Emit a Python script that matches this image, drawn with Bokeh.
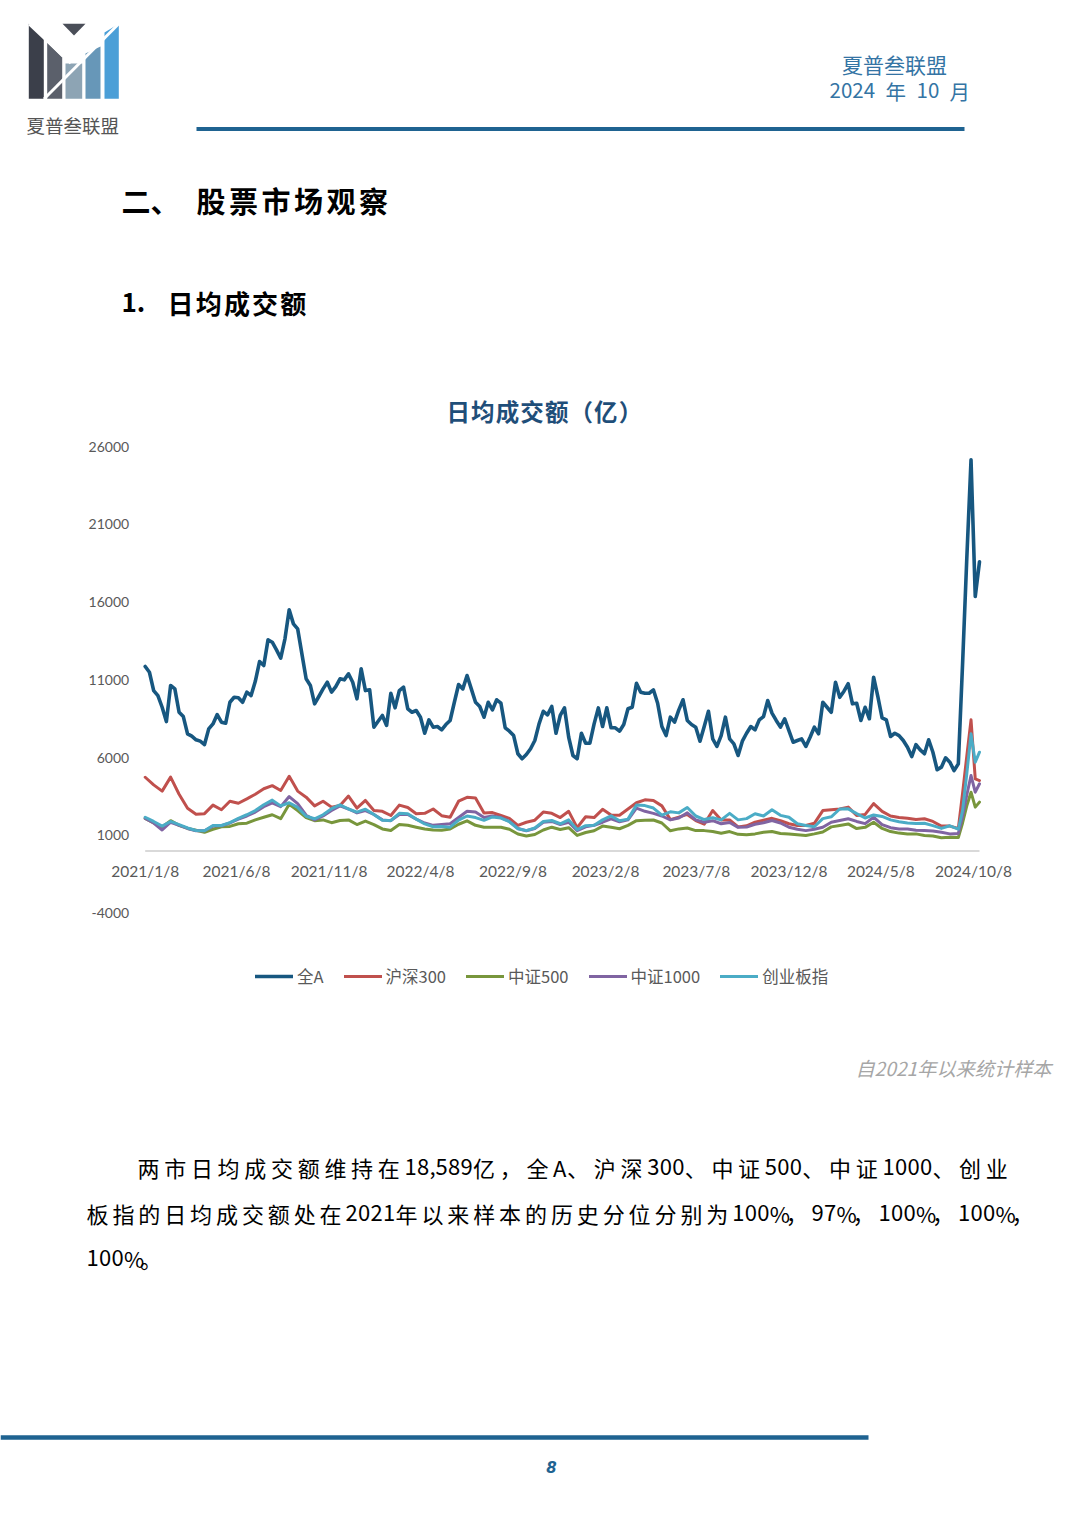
import pandas as pd
import numpy as np
from bokeh.plotting import figure
from bokeh.models import Range1d, FixedTicker, Legend, LegendItem
from bokeh.layouts import column
from bokeh.embed import file_html
from bokeh.resources import INLINE
from bokeh.core.properties import value

# ---------------- data ----------------
START_DATE = "2021-01-08"
SERIES_NAMES = ["全A", "沪深300", "中证500", "中证1000", "创业板指"]
SERIES_COLORS = ["#175780", "#c0504d", "#78963c", "#8064a2", "#4bacc6"]

# weekly
ALL_A = [11860, 11490, 10310, 9990, 9240, 8320, 10640, 10420, 8920, 8640,
         7530, 7380, 7150, 7060, 6840, 7850, 8170, 8770, 8280, 8210,
         9560, 9880, 9850, 9560, 10210, 9990, 10910, 12180, 11920, 13570,
         13420, 12930, 12390, 13640, 15500, 14600, 14280, 12670, 11070, 10640,
         9460, 9930, 10420, 10850, 10210, 10570, 11070, 11000, 11390, 10850,
         9780,
         11710, 10310, 10360, 7960, 8340, 8710, 8070, 10140, 9200, 10310,
         10530, 9140, 8920, 9030, 8600, 7570, 8430, 7960, 8000, 7790,
         8130, 8390, 9560, 10700, 10420, 11280, 10420, 9560, 9290, 8600,
         9560, 9070, 9720, 9500, 7920, 7700, 7420, 6250, 5930, 6200,
         6570, 7100, 8170, 8980, 8750, 9290, 7570, 8710, 9200, 7310,
         6140, 5930, 7570, 6930, 6930, 8170, 9200, 8000, 9200, 7920,
         7920, 7700, 8130, 9140, 9240, 10780, 10210, 10140, 10140, 10360,
         9500, 8000, 7420, 8600, 8280, 9070, 9720, 8390, 8130, 7960,
         7060, 8000, 8980, 7210, 6720, 7420, 8600, 7210, 6890, 6140,
         7060, 7570, 8000, 7790, 8430, 8640, 9670, 8860, 8390,
         7960, 8500, 7740, 6990, 7100, 7210, 6720, 7310, 7960, 7530,
         9560, 9240, 8920, 10850, 9880, 10270, 10750, 9460, 9500, 8390,
         9240, 8500, 11170, 9930, 8560, 8430, 7360, 7570, 7420, 7100,
         6670, 6070, 6840, 6500, 6250, 7150, 6350, 5220, 5390, 5990,
         5710, 5170, 5600, 12000, 18800, 25140, 16360, 18589]

# fortnightly, then weekly for the last five weeks
HS300 = [4740, 4250, 3850, 4750, 3650, 2750, 2360, 2400, 2950, 2650,
         3200, 3070, 3350, 3650, 4000, 4200, 3890, 4800, 3850, 3460,
         2900, 3200, 2820, 2920, 3530, 2750, 3250, 2600, 2550, 2280,
         2950, 2800, 2390, 2420, 2700, 2270, 2170, 3200, 3450, 3400,
         2450, 2470, 2280, 2100, 1650, 1850, 1980, 2500, 2420, 2150,
         2550, 1500, 2200, 2150, 2680, 2320, 2300, 2700, 3100, 3290,
         3250, 2900, 2020, 2180, 2350, 1950, 1720, 2600, 2000, 2000,
         1550, 1620, 1850, 1980, 2100, 1950, 1750, 1640, 1640, 1780,
         2600, 2650, 2700, 2820, 2280, 2350, 3050, 2550, 2250, 2150,
         2100, 2020, 2070, 1900, 1600, 1600, 1450,
         3700, 6100, 8430, 4640, 4530]

ZZ500 = [2100, 1800, 1550, 1950, 1650, 1450, 1330, 1200, 1400, 1560,
         1580, 1750, 1790, 2000, 2170, 2330, 2080, 3000, 2600, 2150,
         1950, 2000, 1820, 1960, 2000, 1700, 1920, 1700, 1420, 1320,
         1700, 1650, 1530, 1420, 1350, 1330, 1410, 1720, 1940, 1650,
         1530, 1530, 1530, 1400, 1090, 960, 1060, 1350, 1530, 1380,
         1500, 1000, 1190, 1300, 1600, 1530, 1430, 1650, 1950, 1980,
         1990, 1800, 1300, 1420, 1480, 1310, 1310, 1250, 1140, 1250,
         1070, 1040, 1100, 1210, 1250, 1120, 1100, 1050, 1000, 1100,
         1220, 1550, 1640, 1740, 1440, 1520, 1850, 1450, 1250, 1150,
         1100, 1100, 1000, 960, 850, 880, 860,
         1800, 2900, 3780, 2820, 3140]

ZZ1000 = [2100, 1800, 1350, 1850, 1650, 1450, 1300, 1300, 1600, 1620,
          1800, 2050, 2250, 2500, 2850, 3100, 2850, 3500, 3050, 2300,
          2000, 2250, 2600, 2900, 2700, 2450, 2600, 2350, 2000, 1950,
          2350, 2350, 2050, 1800, 1650, 1700, 1750, 2150, 2550, 2500,
          2150, 2250, 2150, 1900, 1450, 1300, 1450, 1850, 1900, 1700,
          1850, 1310, 1550, 1650, 1850, 2070, 1880, 2000, 2750, 2550,
          2420, 2250, 2000, 2120, 2450, 2000, 1850, 1950, 1750, 1830,
          1520, 1540, 1720, 1820, 1960, 1800, 1530, 1400, 1310, 1400,
          1530, 1850, 1960, 2070, 1900, 1760, 2170, 1700, 1500, 1420,
          1420, 1330, 1310, 1280, 1200, 1100, 1130,
          2200, 3600, 4850, 3780, 4320]

CYB = [2170, 1900, 1600, 1900, 1700, 1480, 1320, 1300, 1640, 1640,
       1820, 2100, 2330, 2600, 2970, 3270, 2900, 3100, 2800, 2230,
       2070, 2330, 2720, 2970, 2700, 2500, 2690, 2350, 1980, 1960,
       2420, 2390, 2050, 1740, 1560, 1570, 1530, 1980, 2250, 2150,
       1970, 2190, 2120, 1880, 1430, 1310, 1480, 1900, 1960, 1750,
       2000, 1380, 1630, 1650, 2000, 2260, 1940, 2050, 2950, 2920,
       2760, 2300, 2520, 2450, 2800, 2250, 2020, 2140, 2000, 2420,
       2000, 2080, 2390, 2250, 2650, 2290, 2170, 1750, 1640, 1560,
       2080, 2200, 2700, 2710, 2400, 2120, 2320, 2220, 2000, 1880,
       1800, 1760, 1780, 1630, 1450, 1620, 1400,
       2600, 4960, 7530, 5710, 6350]

TICK_DATES = ["2021-01-08", "2021-06-08", "2021-11-08", "2022-04-08", "2022-09-08",
              "2023-02-08", "2023-07-08", "2023-12-08", "2024-05-08", "2024-10-08"]
Y_TICKS = [-4000, 1000, 6000, 11000, 16000, 21000, 26000]

# ---------------- helpers ----------------
W = 1080
CJK = "Noto Sans CJK SC"
NUMF = "Lato"
DAY_MS = 86400000.0

dates = pd.date_range(START_DATE, periods=len(ALL_A), freq="7D")
x_main = (dates.asi8 // 10**6).astype(float)
n_minor = len(HS300)
minor_idx = list(range(0, 193, 2)) + [193, 194, 195, 196, 197]
minor_idx = [min(i, len(x_main) - 1) for i in minor_idx][:n_minor]
x_minor = x_main[minor_idx]


def ms(d):
    return float(pd.Timestamp(d).value // 10**6)


def page_fig(h, y_top, y_bot):
    f = figure(width=W, height=h, x_range=Range1d(0, W), y_range=Range1d(y_bot, y_top),
               output_backend="svg", toolbar_location=None,
               x_axis_location=None, y_axis_location=None, min_border=0,
               frame_align=False)
    f.grid.visible = False
    f.outline_line_color = None
    f.background_fill_color = "white"
    f.border_fill_color = "white"
    return f


def style_of(bold, italic):
    if bold and italic:
        return "bold italic"
    return "bold" if bold else ("italic" if italic else "normal")


def txt(f, x, y, s, size, color="#000000", align="left", bold=False, italic=False, font=CJK):
    f.text(x=[x], y=[y], text=[s], text_font=value(font), text_font_size=f"{size}px",
           text_color=color, text_align=align, text_baseline="middle",
           text_font_style=style_of(bold, italic))


def char_line(f, s, x0, y, size, adv_cjk, narrow=None, color="#000000", bold=False):
    narrow = narrow or {}
    xs, cs = [], []
    x = x0
    for ch in s:
        xs.append(x)
        cs.append(ch)
        x += narrow.get(ch, 12.5) if ord(ch) < 128 else adv_cjk
    f.text(x=xs, y=[y] * len(xs), text=cs, text_font=value(CJK), text_font_size=f"{size}px",
           text_color=color, text_align="left", text_baseline="middle",
           text_font_style=style_of(bold, False))


# ---------------- top of page ----------------
TOP_H = 430
top = page_fig(TOP_H, 0, TOP_H)

logo_xs = [[28.3, 43.3, 43.3, 28.3], [46.7, 61.7, 61.7, 46.7], [65, 81.7, 81.7, 65],
           [85, 100, 100, 85], [104, 118.3, 118.3, 104], [62, 85, 73.5]]
logo_ys = [[23.3, 38, 98.3, 98.3], [42, 57, 98.3, 98.3], [63, 63, 98.3, 98.3],
           [53, 46, 98.3, 98.3], [32, 23.3, 98.3, 98.3], [23.3, 23.3, 35]]
logo_c = ["#3b3f4a", "#5b606b", "#8da4b4", "#6797b8", "#4b9fd7", "#4a4e58"]
top.patches(xs=logo_xs, ys=logo_ys, fill_color=logo_c, line_color=None)
top.line(x=[43.5, 118.5], y=[98.5, 23.0], line_color="white", line_width=3)
top.line(x=[28.5, 70.0], y=[24.0, 63.0], line_color="white", line_width=2)
txt(top, 26, 124, "夏普叁联盟", 18.5, "#555555")

HDR = "#3474a4"
txt(top, 894, 63, "夏普叁联盟", 21, HDR, align="center")
txt(top, 829, 90, "2024", 20.5, HDR)
txt(top, 885, 90, "年", 20.5, HDR)
txt(top, 916, 90, "10", 20.5, HDR)
txt(top, 949, 90, "月", 20.5, HDR)
top.line(x=[196, 964], y=[128.5, 128.5], line_color="#1f6391", line_width=4)

txt(top, 121, 199, "二、", 29, bold=True)
char_line(top, "股票市场观察", 196, 199, 29, 32.5, bold=True)
txt(top, 121, 302, "1.", 26, bold=True)
char_line(top, "日均成交额", 167, 302, 26, 28.2, bold=True)

char_line(top, "日均成交额（亿）", 446, 410, 23.5, 24.6, color="#1f4e79", bold=True)

# ---------------- chart ----------------
CH_TOP, CH_BOT = TOP_H, 1045
chart_h = CH_BOT - CH_TOP
F_LEFT, F_RIGHT, F_TOP, F_BOT = 80, 1030, 435, 1005        # frame edges on the page
X0_PX, PX_PER_DAY = 144.7, 0.605                            # first date position, scale
Y0_PX, Y26_PX = 850.5, 446.0                                # value 0 and 26000 positions
ppu = (Y0_PX - Y26_PX) / 26000.0

x_start = x_main[0] - (X0_PX - F_LEFT) / PX_PER_DAY * DAY_MS
x_end = x_main[0] + (F_RIGHT - X0_PX) / PX_PER_DAY * DAY_MS
y_end = (Y0_PX - F_TOP) / ppu
y_start = (Y0_PX - F_BOT) / ppu

chart = figure(width=W, height=chart_h, output_backend="svg", toolbar_location=None,
               x_range=Range1d(x_start, x_end), y_range=Range1d(y_start, y_end),
               min_border_left=F_LEFT, min_border_right=W - F_RIGHT,
               min_border_top=F_TOP - CH_TOP, min_border_bottom=CH_BOT - F_BOT,
               frame_align=False)
chart.grid.visible = False
chart.outline_line_color = None
chart.border_fill_color = "white"

# category axis baseline at zero, spanning the data dates
chart.line(x=[x_main[0], x_main[-1]], y=[0, 0], line_color="#d9d9d9", line_width=2)

series = [(x_main, ALL_A, 3.6), (x_minor, HS300, 3), (x_minor, ZZ500, 3),
          (x_minor, ZZ1000, 3), (x_minor, CYB, 3)]
renderers = []
for (xx, yy, lw), col in zip(series, SERIES_COLORS):
    n = min(len(xx), len(yy))
    r = chart.line(x=list(xx[:n]), y=list(yy[:n]), line_color=col, line_width=lw,
                   line_join="round", line_cap="round")
    renderers.append(r)

tick_ms = [ms(d) for d in TICK_DATES]
xa = chart.xaxis[0]
xa.fixed_location = 0
xa.ticker = FixedTicker(ticks=tick_ms)
xa.major_label_overrides = {t: f"{pd.Timestamp(d).year}/{pd.Timestamp(d).month}/{pd.Timestamp(d).day}"
                            for t, d in zip(tick_ms, TICK_DATES)}
xa.axis_line_color = None
xa.major_tick_line_color = None
xa.minor_tick_line_color = None
xa.major_tick_out = 0
xa.major_tick_in = 0
xa.minor_tick_out = 0
xa.major_label_standoff = 11
xa.major_label_text_font = NUMF
xa.major_label_text_font_size = "15.5px"
xa.major_label_text_color = "#595959"

ya = chart.yaxis[0]
ya.fixed_location = x_main[0]
ya.ticker = FixedTicker(ticks=Y_TICKS)
ya.major_label_overrides = {t: str(t) for t in Y_TICKS}
ya.axis_line_color = None
ya.major_tick_line_color = None
ya.minor_tick_line_color = None
ya.major_tick_out = 0
ya.major_tick_in = 0
ya.minor_tick_out = 0
ya.major_label_standoff = 16
ya.major_label_text_font = NUMF
ya.major_label_text_font_size = "14px"
ya.major_label_text_color = "#595959"

legend = Legend(items=[LegendItem(label=nm, renderers=[r]) for nm, r in zip(SERIES_NAMES, renderers)],
                orientation="horizontal", location=(255 - F_LEFT, F_BOT - 988),
                glyph_width=38, glyph_height=20, label_height=20, label_standoff=4,
                spacing=20, padding=0, margin=0,
                border_line_color=None, background_fill_alpha=0,
                label_text_font=CJK, label_text_font_size="16.5px", label_text_color="#595959")
chart.add_layout(legend)

# ---------------- bottom of page ----------------
bot = page_fig(1528 - CH_BOT, CH_BOT, 1528)
txt(bot, 1051, 1067, "自2021年以来统计样本", 19.2, "#a6a6a6", align="right", italic=True)

narrow1 = {",": 6.0, "%": 16.0, "A": 14.0}
char_line(bot, "两市日均成交额维持在18,589亿，全A、沪深300、中证500、中证1000、创业",
          137, 1166, 22, 26.7, narrow1)
char_line(bot, "板指的日均成交额处在2021年以来样本的历史分位分别为100%，97%，100%，100%，",
          86, 1212, 22, 25.9, narrow1)
char_line(bot, "100%。", 86, 1257, 22, 25.9, narrow1)

bot.line(x=[0, 868], y=[1437, 1437], line_color="#1f6391", line_width=4.5)
txt(bot, 551, 1466, "8", 15, "#1f6391", align="center", bold=True, italic=True, font="DejaVu Sans")

page = column(top, chart, bot, spacing=0)
open("out.html", "w").write(file_html(page, INLINE))
